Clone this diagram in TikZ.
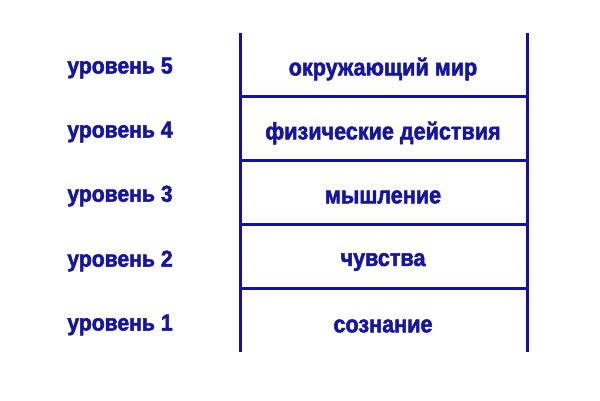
\documentclass[tikz,border=0pt]{standalone}
\usepackage{fontspec}
\setmainfont{Liberation Sans}
\newfontfamily\lvlfont{Liberation Sans Bold}[FakeBold=2,FakeStretch=0.92]
\newfontfamily\itemfont{Liberation Sans Bold}[FakeBold=2,FakeStretch=0.9]
\definecolor{lineblue}{HTML}{1010B0}
\definecolor{textblue}{HTML}{1414A8}
\begin{document}
\begin{tikzpicture}[x=1pt,y=-1pt,
  rung/.style={draw=lineblue,line width=3pt},
  lvl/.style={text=textblue,font=\lvlfont\fontsize{23}{23}\selectfont,anchor=center,inner sep=0pt},
  item/.style={text=textblue,font=\itemfont\fontsize{24}{24}\selectfont,anchor=center,inner sep=0pt}]
\fill[white] (0,0) rectangle (600,400);
\useasboundingbox (0,0) rectangle (600,400);
\coordinate (lt) at (240,33);
\coordinate (lb) at (240,352);
\coordinate (rt) at (527,33);
\coordinate (rb) at (527,352);
\draw[rung] (lt) -- (lb);
\draw[rung] (rt) -- (rb);
\foreach \y/\n in {96/a,160/b,224/c,288/d}{
  \coordinate (hl\n) at (240,\y);
  \coordinate (hr\n) at (527,\y);
  \draw[rung] (hl\n) -- (hr\n);
}
\node[lvl] (l5) at (120,68) {уровень 5};
\node[lvl] (l4) at (120,132) {уровень 4};
\node[lvl] (l3) at (120,196) {уровень 3};
\node[lvl] (l2) at (120,261) {уровень 2};
\node[lvl] (l1) at (120,325) {уровень 1};
\node[item] (i5) at (383,69) {окружающий мир};
\node[item] (i4) at (383,133) {физические действия};
\node[item] (i3) at (383,197) {мышление};
\node[item] (i2) at (383,262) {чувства};
\node[item] (i1) at (383,326) {сознание};
\end{tikzpicture}
\end{document}
